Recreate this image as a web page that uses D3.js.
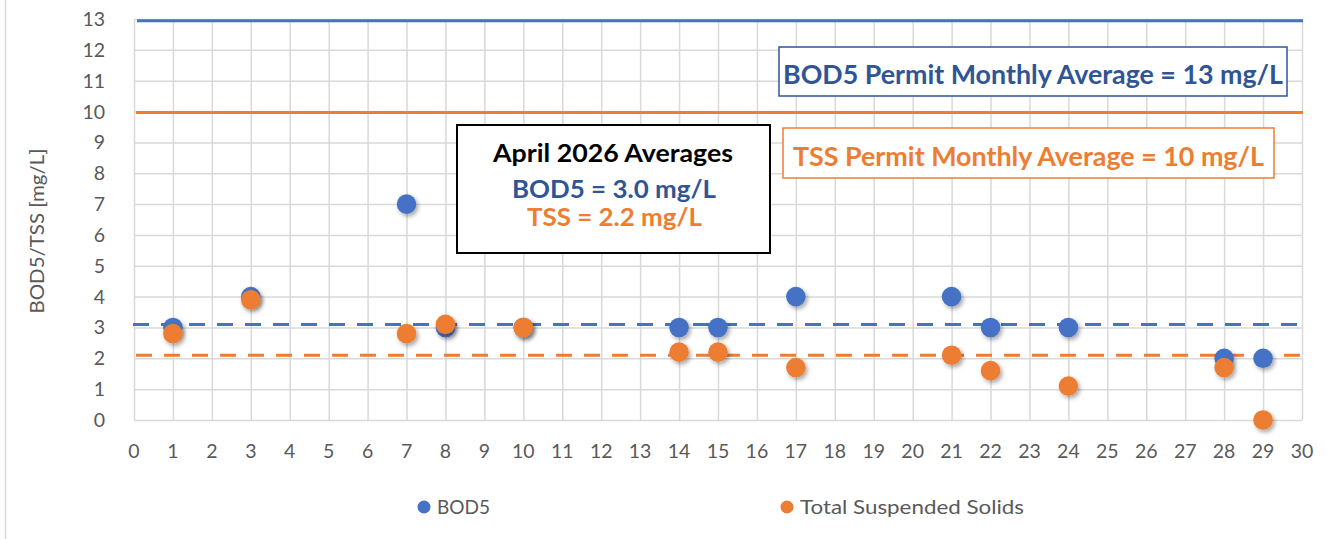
<!DOCTYPE html>
<html>
<head>
  <title>BOD5 / TSS April 2026</title>
  <style>
    body { margin: 0; background: #fff; }
    text { font-family: Lato, "Open Sans", sans-serif; }
    .grid line { stroke: #d9d9d9; stroke-width: 1.5; }
    .grid path { display: none; }
    .tick-label { fill: #595959; font-size: 19.5px; }
    .legend-text { fill: #595959; font-size: 20px; }
  </style>
</head>
<body>
  <svg id="chart"></svg>

  <script src="https://cdn.jsdelivr.net/npm/d3@7/dist/d3.min.js"></script>
  <script>
  // days of the month with samples
  var days = [1, 3, 7, 8, 10, 14, 15, 17, 21, 22, 24, 28, 29];
  var bod5 = [3, 4, 7, 3, 3, 3, 3, 4, 4, 3, 3, 2, 2];
  var tss  = [2.8, 3.9, 2.8, 3.1, 3, 2.2, 2.2, 1.7, 2.1, 1.6, 1.1, 1.7, 0];

  var xTicks = d3.range(0, 31);
  var yTicks = d3.range(0, 14);

  // permit limits and drawn average lines
  var bodPermit = 12.94, tssPermit = 9.97;
  var bodAvgLine = 3.1, tssAvgLine = 2.1;

  var blue = '#4472C4', orange = '#ED7D31', darkBlue = '#2F5597';

  var width = 1327, height = 539;
  var svg = d3.select('#chart')
    .attr('width', width)
    .attr('height', height);

  var defs = svg.append('defs');
  var f = defs.append('filter').attr('id', 'shadow')
    .attr('x', '-50%').attr('y', '-50%').attr('width', '200%').attr('height', '200%');
  f.append('feDropShadow')
    .attr('dx', 2).attr('dy', 2.5).attr('stdDeviation', 2)
    .attr('flood-color', '#000').attr('flood-opacity', 0.35);

  // chart border (only left edge visible)
  svg.append('rect')
    .attr('x', 5.5).attr('y', -10)
    .attr('width', width + 20).attr('height', height + 20)
    .attr('fill', 'none').attr('stroke', '#d9d9d9').attr('stroke-width', 1.5);

  var x = d3.scaleLinear().domain([0, 30]).range([134, 1302]);
  var y = d3.scaleLinear().domain([0, 13]).range([420, 19]);

  // grid
  svg.append('g')
    .attr('class', 'grid')
    .attr('transform', 'translate(0,' + y(0) + ')')
    .call(d3.axisBottom(x).tickValues(xTicks).tickSize(-(y(0) - y(13))).tickFormat(''));

  svg.append('g')
    .attr('class', 'grid')
    .attr('transform', 'translate(' + x(0) + ',0)')
    .call(d3.axisLeft(y).tickValues(yTicks).tickSize(-(x(30) - x(0))).tickFormat(''));

  // tick labels
  svg.selectAll('text.xlab')
    .data(xTicks)
    .enter()
    .append('text')
    .attr('class', 'tick-label xlab')
    .attr('x', d => x(d))
    .attr('y', 458)
    .attr('text-anchor', 'middle')
    .text(d => d);

  svg.selectAll('text.ylab')
    .data(yTicks)
    .enter()
    .append('text')
    .attr('class', 'tick-label ylab')
    .attr('x', 105)
    .attr('y', d => y(d) + 7)
    .attr('text-anchor', 'end')
    .text(d => d);

  // axis title
  svg.append('text')
    .attr('transform', 'translate(44,231) rotate(-90)')
    .attr('text-anchor', 'middle')
    .attr('fill', '#595959')
    .attr('font-size', 19.5)
    .attr('textLength', 165)
    .attr('lengthAdjust', 'spacingAndGlyphs')
    .text('BOD5/TSS [mg/L]');

  // permit lines
  svg.append('line')
    .attr('x1', x(0) + 3).attr('x2', x(30) + 1)
    .attr('y1', y(bodPermit)).attr('y2', y(bodPermit))
    .attr('stroke', blue).attr('stroke-width', 3);

  svg.append('line')
    .attr('x1', x(0) + 2).attr('x2', x(30) + 1)
    .attr('y1', y(tssPermit)).attr('y2', y(tssPermit))
    .attr('stroke', orange).attr('stroke-width', 3);

  // average lines (dashed)
  svg.append('line')
    .attr('x1', x(0) - 1).attr('x2', x(30))
    .attr('y1', y(bodAvgLine)).attr('y2', y(bodAvgLine))
    .attr('stroke', blue).attr('stroke-width', 3)
    .attr('stroke-dasharray', '16,12');

  svg.append('line')
    .attr('x1', x(0) + 2).attr('x2', x(30))
    .attr('y1', y(tssAvgLine)).attr('y2', y(tssAvgLine))
    .attr('stroke', orange).attr('stroke-width', 3)
    .attr('stroke-dasharray', '16,12');

  // points
  var bodPts = days.map((d, i) => ({ day: d, v: bod5[i] }));
  var tssPts = days.map((d, i) => ({ day: d, v: tss[i] }));

  svg.selectAll('circle.bod')
    .data(bodPts)
    .enter()
    .append('circle')
    .attr('class', 'bod')
    .attr('cx', d => x(d.day))
    .attr('cy', d => y(d.v))
    .attr('r', 9.8)
    .attr('fill', blue)
    .attr('filter', 'url(#shadow)');

  svg.selectAll('circle.tss')
    .data(tssPts)
    .enter()
    .append('circle')
    .attr('class', 'tss')
    .attr('cx', d => x(d.day))
    .attr('cy', d => y(d.v))
    .attr('r', 9.8)
    .attr('fill', orange)
    .attr('filter', 'url(#shadow)');

  // annotation boxes
  function box(x0, y0, w, h, color, sw) {
    svg.append('rect')
      .attr('x', x0).attr('y', y0)
      .attr('width', w).attr('height', h)
      .attr('fill', '#fff')
      .attr('stroke', color)
      .attr('stroke-width', sw);
  }
  function label(txt, cx, by, color, size, len) {
    svg.append('text')
      .attr('x', cx).attr('y', by)
      .attr('text-anchor', 'middle')
      .attr('font-weight', 'bold')
      .attr('font-size', size)
      .attr('fill', color)
      .attr('textLength', len)
      .attr('lengthAdjust', 'spacingAndGlyphs')
      .text(txt);
  }

  box(457, 125, 313, 128, '#000', 2);
  label('April 2026 Averages', 613, 162, '#000', 24.5, 240);
  label('BOD5 = 3.0 mg/L', 614, 197.5, darkBlue, 25, 204);
  label('TSS = 2.2 mg/L', 614.5, 226, orange, 25, 175);

  box(779, 47, 508, 49, darkBlue, 1.5);
  label('BOD5 Permit Monthly Average = 13 mg/L', 1033, 84, darkBlue, 27, 500);

  box(783, 128, 491, 50, orange, 1.5);
  label('TSS Permit Monthly Average = 10 mg/L', 1028.5, 166, orange, 27, 471);

  // legend
  var legend = [{ name: 'BOD5', color: blue, x: 424, len: 53 },
                { name: 'Total Suspended Solids', color: orange, x: 787, len: 224 }];

  svg.selectAll('circle.leg')
    .data(legend)
    .enter()
    .append('circle')
    .attr('class', 'leg')
    .attr('cx', d => d.x)
    .attr('cy', 507)
    .attr('r', 6.5)
    .attr('fill', d => d.color);

  svg.selectAll('text.leg')
    .data(legend)
    .enter()
    .append('text')
    .attr('class', 'legend-text leg')
    .attr('x', d => d.x + 13)
    .attr('y', 514)
    .attr('textLength', d => d.len)
    .attr('lengthAdjust', 'spacingAndGlyphs')
    .text(d => d.name);
  </script>
</body>
</html>
